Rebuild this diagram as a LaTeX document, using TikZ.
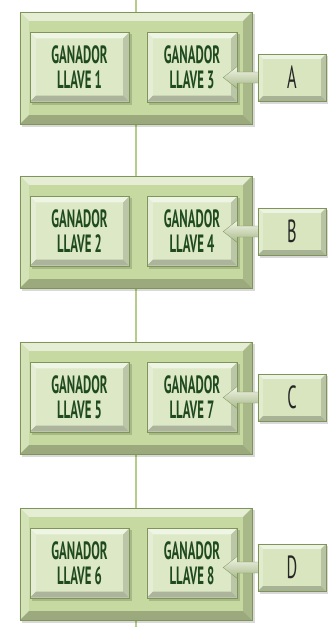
\documentclass[tikz,border=0pt]{standalone}
\usepackage{fontspec}
\newfontfamily\agency{PT Sans}[FakeStretch=0.51]
\usetikzlibrary{calc,backgrounds}
\definecolor{outerg}{HTML}{C6D9A0}
\definecolor{innerg}{HTML}{DCE8C6}
\definecolor{lineg}{HTML}{B5CD88}
\definecolor{txtg}{HTML}{1F4A1F}
\definecolor{edgeg}{HTML}{7E9458}
\tikzset{
  outerbox/.style={minimum width=232pt,minimum height=112pt,inner sep=0pt},
  innerbox/.style={minimum height=69pt,inner sep=0pt,align=center,text=txtg,
    font=\agency\bfseries\fontsize{25}{25}\selectfont},
  labbox/.style={minimum width=68pt,minimum height=47pt,inner sep=0pt,text=black!85,
    font=\agency\fontsize{32}{32}\selectfont},
  vline/.style={draw=lineg,line width=1.3pt},
  arrowstyle/.style={top color=innerg!40!white,bottom color=outerg!85!black,draw=edgeg,line width=0.3pt}
}
\newcommand\bevbox[3]{% node, bevel width, colour
  \fill[black,opacity=0.15] ($(#1.south west)+(2,3)$) rectangle ($(#1.north east)+(3,2)$);
  \fill[#3] (#1.south west) rectangle (#1.north east);
  \fill[#3!45!white] (#1.north west) -- (#1.north east) -- ($(#1.north east)+(-#2,#2)$) -- ($(#1.north west)+(#2,#2)$) -- cycle;
  \fill[#3!75!white] (#1.north west) -- ($(#1.north west)+(#2,#2)$) -- ($(#1.south west)+(#2,-#2)$) -- (#1.south west) -- cycle;
  \fill[#3!85!black] (#1.north east) -- (#1.south east) -- ($(#1.south east)+(-#2,-#2)$) -- ($(#1.north east)+(-#2,#2)$) -- cycle;
  \fill[#3!78!black] (#1.south west) -- ($(#1.south west)+(#2,-#2)$) -- ($(#1.south east)+(-#2,-#2)$) -- (#1.south east) -- cycle;
  \draw[edgeg,line width=0.4pt] (#1.south west) rectangle (#1.north east);
}
\newcommand\grp[6]{% id, top, left no, right no, label, label offset
  \node[outerbox] (o#1) at (136,#2+56) {};
  \node[innerbox,minimum width=99pt] (l#1) at (79.5,#2+55) {GANADOR\\LLAVE #3};
  \node[innerbox,minimum width=90pt] (r#1) at (192,#2+55) {GANADOR\\LLAVE #4};
  \node[labbox] (k#1) at (292,#2+#6) {#5};
}
\newcommand\grpbg[1]{%
  \bevbox{o#1}{9}{outerg}
  \bevbox{l#1}{6}{innerg}
  \bevbox{r#1}{6}{innerg}
  \shade[arrowstyle] ($(k#1.west)+(2,-5.5)$) -- ($(r#1.east |- k#1.west)+(0,-5.5)$)
     -- ($(r#1.east |- k#1.west)+(0,-11)$) -- ($(r#1.east |- k#1.west)+(-14,0)$)
     -- ($(r#1.east |- k#1.west)+(0,11)$) -- ($(r#1.east |- k#1.west)+(0,5.5)$)
     -- ($(k#1.west)+(2,5.5)$) -- cycle;
  \bevbox{k#1}{5}{innerg!80!outerg}
}
\begin{document}
\begin{tikzpicture}[x=1pt,y=-1pt]
\useasboundingbox (0,0) rectangle (327,627);
\coordinate (top) at (136,0);
\coordinate (bot) at (136,627);
\grp{a}{12}{1}{3}{A}{65.5}
\grp{b}{176}{2}{4}{B}{55.5}
\grp{c}{342}{5}{7}{C}{55.5}
\grp{d}{508}{6}{8}{D}{59.5}
\begin{pgfonlayer}{background}
  \draw[vline] (top) -- (oa.north);
  \draw[vline] (oa.south) -- (ob.north);
  \draw[vline] (ob.south) -- (oc.north);
  \draw[vline] (oc.south) -- (od.north);
  \draw[vline] (od.south) -- (bot);
  \grpbg{a}
  \grpbg{b}
  \grpbg{c}
  \grpbg{d}
\end{pgfonlayer}
\end{tikzpicture}
\end{document}
